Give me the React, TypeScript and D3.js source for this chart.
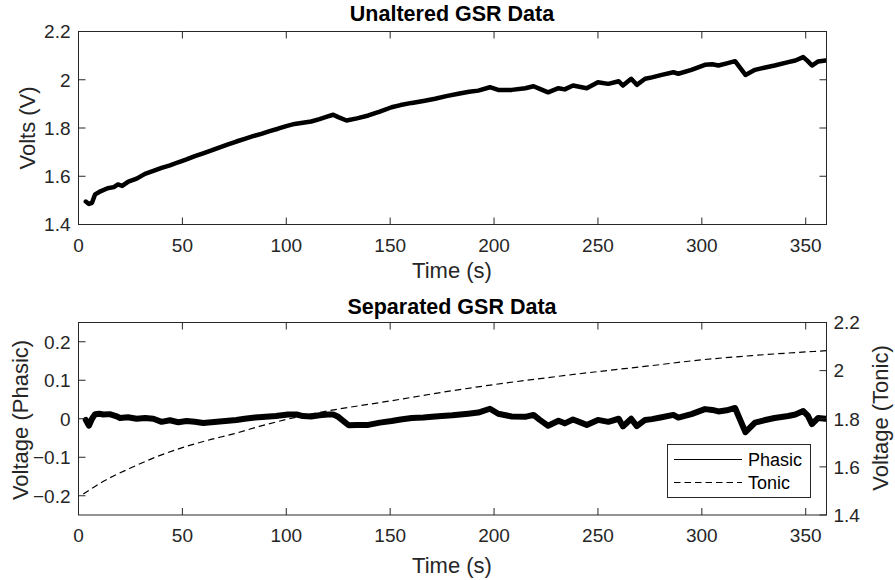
import React from "react";
import * as d3 from "d3";

const xTicks = [0, 50, 100, 150, 200, 250, 300, 350];
const voltTicks = [1.4, 1.6, 1.8, 2.0, 2.2];
const phasicTicks = [-0.2, -0.1, 0, 0.1, 0.2];

const rawTime = [3.5, 5, 6.5, 8, 10, 14, 17, 19, 21, 24, 28, 32, 36, 40, 44, 48, 52, 56, 60, 64, 68, 72, 76, 80, 84, 88, 92, 96, 100, 104, 108, 112, 116, 120, 122.6, 125, 129, 134, 139.5, 145, 150.7, 155, 160.4, 166, 171.6, 177, 182.8, 188, 192.4, 198, 202, 208.5, 215, 219, 222, 226, 231, 234, 238, 244.6, 250, 255, 260, 262, 266, 268.7, 272.7, 276, 280.7, 286.3, 288.7, 295, 301.5, 305, 308, 312, 316, 321, 325.6, 330, 335, 341.6, 345, 348.8, 351, 353, 356, 359.5];
const rawVolts = [1.495, 1.485, 1.49, 1.525, 1.535, 1.55, 1.555, 1.566, 1.56, 1.578, 1.59, 1.61, 1.622, 1.635, 1.645, 1.658, 1.67, 1.683, 1.695, 1.707, 1.72, 1.732, 1.744, 1.755, 1.766, 1.776, 1.787, 1.797, 1.808, 1.817, 1.822, 1.827, 1.837, 1.848, 1.855, 1.845, 1.831, 1.84, 1.852, 1.868, 1.886, 1.895, 1.904, 1.912, 1.921, 1.932, 1.942, 1.95, 1.955, 1.969, 1.958, 1.958, 1.965, 1.973, 1.962, 1.948, 1.965, 1.96, 1.976, 1.965, 1.99, 1.983, 1.994, 1.976, 2.004, 1.979, 2.004, 2.01, 2.02, 2.031, 2.025, 2.041, 2.062, 2.064, 2.059, 2.068, 2.077, 2.02, 2.041, 2.05, 2.059, 2.073, 2.08, 2.094, 2.077, 2.059, 2.076, 2.08];

const phasicTime = [3.5, 5, 6.5, 8, 10, 12, 15, 18, 20, 23.8, 28, 32, 36, 40, 44, 48, 52, 56, 60, 64, 68, 72, 76, 80, 85, 90, 95, 100.8, 105, 108, 112, 116, 120, 122.6, 125, 130, 134, 139.5, 145, 150.7, 155, 160.4, 166, 171.6, 174.8, 180, 187.6, 192.4, 198, 202, 208.5, 215, 219, 222, 226, 231, 234, 238, 244.6, 250, 255, 260, 262, 266, 268.7, 272.7, 276, 280.7, 286.3, 288.7, 295, 301.5, 305, 308, 312, 316, 321, 325.6, 330, 335, 341.6, 345, 348.8, 351, 353, 356, 359.5];
const phasicVolts = [-0.003, -0.018, 0.0, 0.012, 0.013, 0.011, 0.012, 0.007, 0.002, 0.004, 0.0, 0.002, 0.0, -0.008, -0.004, -0.009, -0.006, -0.008, -0.011, -0.009, -0.007, -0.005, -0.003, 0.0, 0.003, 0.005, 0.007, 0.011, 0.011, 0.007, 0.006, 0.009, 0.011, 0.011, 0.005, -0.017, -0.016, -0.016, -0.01, -0.006, -0.002, 0.002, 0.003, 0.006, 0.007, 0.009, 0.013, 0.016, 0.026, 0.013, 0.006, 0.005, 0.01, -0.003, -0.018, -0.005, -0.012, -0.002, -0.016, -0.003, -0.008, 0.0, -0.02, 0.0, -0.019, -0.003, -0.001, 0.004, 0.01, 0.003, 0.012, 0.025, 0.023, 0.019, 0.022, 0.028, -0.035, -0.01, -0.004, 0.002, 0.007, 0.011, 0.02, 0.008, -0.014, 0.002, 0.0];

const tonicTime = [2.3, 12, 25, 37, 50, 62, 75, 87, 100, 112, 125, 150, 175, 200, 225, 250, 275, 300, 325, 360];
const tonicVolts = [1.487, 1.54, 1.595, 1.64, 1.68, 1.71, 1.738, 1.768, 1.797, 1.82, 1.84, 1.874, 1.91, 1.942, 1.97, 1.996, 2.02, 2.045, 2.063, 2.083];

const FONT = "'Liberation Sans', Arial, Helvetica, sans-serif";
const AX = "#262626";
const TICK_FS = 19;
const LABEL_FS = 22;
const TITLE_FS = 21.5;

export default function App() {
  const W = 895, H = 580;
  const xL = 78.5, xR = 826.5;
  const top = { y0: 31.5, y1: 224.5 };
  const bot = { y0: 322.5, y1: 515 };

  const x = d3.scaleLinear().domain([0, 360]).range([xL, xR]);
  const yTop = d3.scaleLinear().domain([1.4, 2.2]).range([top.y1, top.y0]);
  const yPh = d3.scaleLinear().domain([-0.25, 0.25]).range([bot.y1, bot.y0]);
  const yTo = d3.scaleLinear().domain([1.4, 2.2]).range([bot.y1, bot.y0]);

  const rawLine = d3.line<number>().x((_, i) => x(rawTime[i])).y((v) => yTop(v));
  const phLine = d3.line<number>().x((_, i) => x(phasicTime[i])).y((v) => yPh(v));
  const toLine = d3.line<number>().x((_, i) => x(tonicTime[i])).y((v) => yTo(v)).curve(d3.curveMonotoneX);

  const tickLen = 7;
  const fmt = (v: number) => (Math.abs(v) < 1e-9 ? "0" : d3.format("~g")(+v.toFixed(2)));

  const xAxis = (y0: number, y1: number) => (
    <g>
      {xTicks.map((t) => (
        <g key={t}>
          <line x1={x(t)} x2={x(t)} y1={y1} y2={y1 - tickLen} stroke={AX} />
          <line x1={x(t)} x2={x(t)} y1={y0} y2={y0 + tickLen} stroke={AX} />
          <text x={x(t)} y={y1 + 27} textAnchor="middle" fontSize={TICK_FS} fill={AX} fontFamily={FONT}>{t}</text>
        </g>
      ))}
    </g>
  );

  return (
    <svg width={W} height={H} style={{ position: "absolute", left: 0, top: 0, background: "#fff" }}>
      <rect x={0} y={0} width={W} height={H} fill="#fff" />
      <defs>
        <clipPath id="clipTop"><rect x={xL} y={top.y0} width={xR - xL} height={top.y1 - top.y0} /></clipPath>
        <clipPath id="clipBot"><rect x={xL} y={bot.y0} width={xR - xL} height={bot.y1 - bot.y0} /></clipPath>
      </defs>
      {/* Top panel */}
      <g clipPath="url(#clipTop)">
        <path d={rawLine(rawVolts) || ""} fill="none" stroke="#000" strokeWidth={4.5} strokeLinejoin="round" strokeLinecap="round" />
      </g>
      <rect x={xL} y={top.y0} width={xR - xL} height={top.y1 - top.y0} fill="none" stroke={AX} strokeWidth={1} />
      {xAxis(top.y0, top.y1)}
      {voltTicks.map((t) => (
        <g key={t}>
          <line x1={xL} x2={xL + tickLen} y1={yTop(t)} y2={yTop(t)} stroke={AX} />
          <line x1={xR} x2={xR - tickLen} y1={yTop(t)} y2={yTop(t)} stroke={AX} />
          <text x={xL - 8} y={yTop(t)} dy="0.36em" textAnchor="end" fontSize={TICK_FS} fill={AX} fontFamily={FONT}>{fmt(t)}</text>
        </g>
      ))}
      <text x={452} y={21} textAnchor="middle" fontSize={TITLE_FS} fontWeight="bold" fill="#000" fontFamily={FONT}>Unaltered GSR Data</text>
      <text x={452} y={278} textAnchor="middle" fontSize={LABEL_FS} fill={AX} fontFamily={FONT}>Time (s)</text>
      <text transform={`translate(35,128) rotate(-90)`} textAnchor="middle" fontSize={LABEL_FS} fill={AX} fontFamily={FONT}>Volts (V)</text>

      {/* Bottom panel */}
      <g clipPath="url(#clipBot)">
        <path d={toLine(tonicVolts) || ""} fill="none" stroke="#000" strokeWidth={1.2} strokeDasharray="6.5,4" />
        <path d={phLine(phasicVolts) || ""} fill="none" stroke="#000" strokeWidth={6} strokeLinejoin="round" strokeLinecap="round" />
      </g>
      <rect x={xL} y={bot.y0} width={xR - xL} height={bot.y1 - bot.y0} fill="none" stroke={AX} strokeWidth={1} />
      {xAxis(bot.y0, bot.y1)}
      {phasicTicks.map((t) => (
        <g key={t}>
          <line x1={xL} x2={xL + tickLen} y1={yPh(t)} y2={yPh(t)} stroke={AX} />
          <text x={xL - 8} y={yPh(t)} dy="0.36em" textAnchor="end" fontSize={TICK_FS} fill={AX} fontFamily={FONT}>{fmt(t)}</text>
        </g>
      ))}
      {voltTicks.map((t) => (
        <g key={t}>
          <line x1={xR} x2={xR - tickLen} y1={yTo(t)} y2={yTo(t)} stroke={AX} />
          <text x={xR + 7} y={yTo(t)} dy="0.36em" textAnchor="start" fontSize={TICK_FS} fill={AX} fontFamily={FONT}>{fmt(t)}</text>
        </g>
      ))}
      <text x={452} y={314} textAnchor="middle" fontSize={TITLE_FS} fontWeight="bold" fill="#000" fontFamily={FONT}>Separated GSR Data</text>
      <text x={452} y={573} textAnchor="middle" fontSize={LABEL_FS} fill={AX} fontFamily={FONT}>Time (s)</text>
      <text transform={`translate(28,420) rotate(-90)`} textAnchor="middle" fontSize={LABEL_FS} fill={AX} fontFamily={FONT}>Voltage (Phasic)</text>
      <text transform={`translate(888,418) rotate(-90)`} textAnchor="middle" fontSize={LABEL_FS} fill={AX} fontFamily={FONT}>Voltage (Tonic)</text>

      {/* Legend */}
      <rect x={667.5} y={444.5} width={143} height={53} fill="#fff" stroke={AX} strokeWidth={1} />
      <line x1={674} x2={742} y1={459.5} y2={459.5} stroke="#000" strokeWidth={1.2} />
      <text x={748} y={459.5} dy="0.36em" fontSize={18} fill="#000" fontFamily={FONT}>Phasic</text>
      <line x1={674} x2={742} y1={482.5} y2={482.5} stroke="#000" strokeWidth={1.2} strokeDasharray="6.5,4" />
      <text x={748} y={482.5} dy="0.36em" fontSize={18} fill="#000" fontFamily={FONT}>Tonic</text>
    </svg>
  );
}
